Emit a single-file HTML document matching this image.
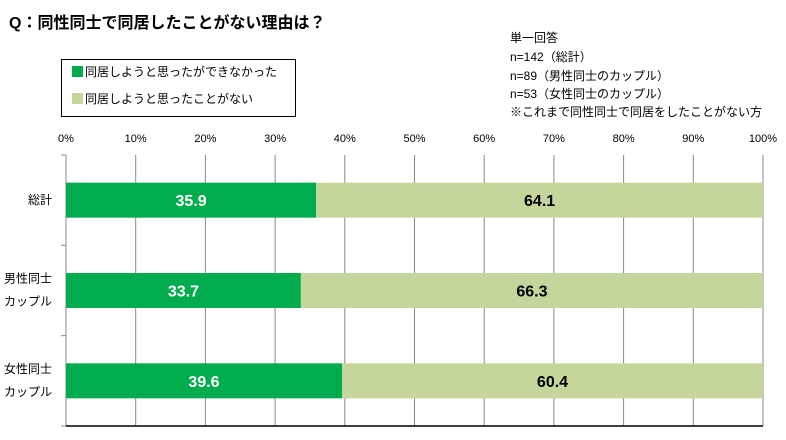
<!DOCTYPE html>
<html><head><meta charset="utf-8"><style>
body{margin:0;background:#fff;width:786px;height:435px;overflow:hidden;font-family:"Liberation Sans","Noto Sans CJK JP",sans-serif}
</style></head><body>
<svg width="786" height="435" xmlns="http://www.w3.org/2000/svg" font-family="'Liberation Sans','Noto Sans CJK JP',sans-serif">
<text x="9" y="28" font-size="16" font-weight="bold" fill="#000">Q：同性同士で同居したことがない理由は？</text>
<g>
<rect x="61.5" y="59.5" width="234" height="57" fill="#fff" stroke="#000"/>
<rect x="72" y="66" width="11" height="11" fill="#00ac4e"/>
<text x="85" y="76" font-size="12">同居しようと思ったができなかった</text>
<rect x="72" y="93" width="11" height="11" fill="#c4d69c"/>
<text x="85" y="103" font-size="12">同居しようと思ったことがない</text>
</g>
<g font-size="12" fill="#000">
<text x="510" y="42">単一回答</text>
<text x="510" y="61">n=142（総計）</text>
<text x="510" y="80">n=89（男性同士のカップル）</text>
<text x="510" y="98">n=53（女性同士のカップル）</text>
<text x="510" y="116">※これまで同性同士で同居をしたことがない方</text>
</g>
<g id="plot"></g>
</svg>
<script>
const categories=[["総計"],["男性同士","カップル"],["女性同士","カップル"]];
const series1=[35.9,33.7,39.6];
const series2=[64.1,66.3,60.4];
const ticks=[0,10,20,30,40,50,60,70,80,90,100];
const x0=66,x1=763,yTop=155,yBot=426,band=(yBot-yTop)/3,barH=35;
const X=v=>x0+(x1-x0)*v/100;
const ns="http://www.w3.org/2000/svg",g=document.getElementById('plot');
function mk(t,a){const e=document.createElementNS(ns,t);for(const k in a)e.setAttribute(k,a[k]);g.appendChild(e);return e;}
ticks.forEach(t=>{
 const l=mk('line',{x1:X(t),x2:X(t),y1:yTop,y2:yBot,stroke:'#888','stroke-width':1});
 
 
 const tx=mk('text',{x:X(t),y:142,'font-size':11,'text-anchor':'middle'});tx.textContent=t+'%';
 
 
});
for(let i=0;i<=3;i++){mk('line',{x1:x0-5,x2:x0,y1:yTop+band*i,y2:yTop+band*i,stroke:'#888'});}
mk('line',{x1:x0,x2:x0,y1:yTop,y2:yBot,stroke:'#888'});
mk('line',{x1:x0,x2:x1,y1:yBot,y2:yBot,stroke:'#000','stroke-width':1.5});
categories.forEach((c,i)=>{
 const cy=yTop+band*i+band/2,y=cy-barH/2;
 const a=mk('rect',{x:X(0),y:y,width:X(series1[i])-X(0),height:barH,fill:'#00ac4e'});
 
 
 const b=mk('rect',{x:X(series1[i]),y:y,width:X(series1[i]+series2[i])-X(series1[i]),height:barH,fill:'#c4d69c'});
 
 
 let t=mk('text',{x:(X(0)+X(series1[i]))/2,y:cy+6,'font-size':16,'font-weight':'bold',fill:'#fff','text-anchor':'middle'});t.textContent=series1[i].toFixed(1);
 
 
 t=mk('text',{x:(X(series1[i])+X(series1[i]+series2[i]))/2,y:cy+6,'font-size':16,'font-weight':'bold',fill:'#000','text-anchor':'middle'});t.textContent=series2[i].toFixed(1);
 
 
 c.forEach((s,j)=>{
  const ly=c.length==1?cy+4:cy-8+j*23;
  const lt=mk('text',{x:52,y:ly,'font-size':12,'text-anchor':'end'});lt.textContent=s;
  
  
 });
});
</script>
</body></html>
